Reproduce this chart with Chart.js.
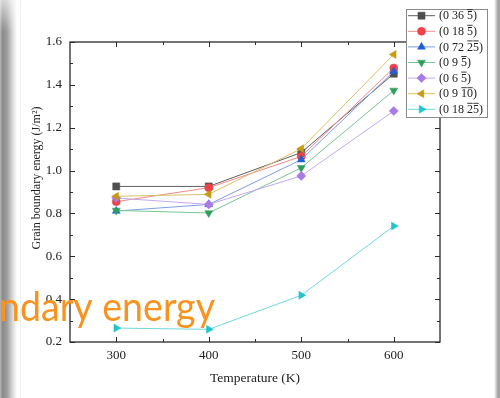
<!DOCTYPE html>
<html><head><meta charset="utf-8">
<script src="https://cdn.jsdelivr.net/npm/chart.js@4.4.1/dist/chart.umd.min.js"></script>
<style>html,body{margin:0;padding:0;background:#fff;overflow:hidden}#wrap{width:500px;height:398px;position:relative}</style>
</head><body><div id="wrap"><canvas id="c" width="500" height="398"></canvas></div>
<script>
// ---- data ----
const temperatures = [300, 400, 500, 600];
const seriesLabels = ['(0 36 5\u0305)', '(0 18 5\u0305)', '(0 72 2\u03055\u0305)', '(0 9 5\u0305)', '(0 6 5\u0305)', '(0 9 1\u03050\u0305)', '(0 18 2\u03055\u0305)'];
const e_0_36_5  = [0.926, 0.926, 1.084, 1.452];
const e_0_18_5  = [0.855, 0.920, 1.066, 1.479];
const e_0_72_25 = [0.811, 0.842, 1.051, 1.463];
const e_0_9_5   = [0.814, 0.802, 1.013, 1.374];
const e_0_6_5   = [0.872, 0.842, 0.975, 1.278];
const e_0_9_10  = [0.880, 0.889, 1.102, 1.542];
const e_0_18_25 = [0.265, 0.259, 0.418, 0.741];
const xTickValues = [300, 400, 500, 600];
const xMinorTicks = [350, 450, 550];
const yTickValues = [0.2, 0.4, 0.6, 0.8, 1.0, 1.2, 1.4, 1.6];
const yMinorTicks = [0.3, 0.5, 0.7, 0.9, 1.1, 1.3, 1.5];
const xTitle = 'Temperature (K)';
const yTitle = 'Grain boundary energy (J/m\u00B2)';
const overlayText = 'ndary energy';

const seriesValues = [e_0_36_5, e_0_18_5, e_0_72_25, e_0_9_5, e_0_6_5, e_0_9_10, e_0_18_25];
const markerColors = ['#4f4f4f', '#ee4148', '#1f5fd8', '#2e9e5b', '#a77be6', '#c89b14', '#22c4cc'];
const lineColors = ['#5e5e5e', '#f08a8c', '#7e9fe4', '#78c596', '#c4a9ef', '#dcc068', '#70d8dc'];
const pointStyles = ['rect', 'circle', 'triangle', 'triangle', 'rectRot', 'triangle', 'triangle'];
const pointRotations = [0, 0, 0, 180, 0, -90, 90];
const pointRadii = [5, 4, 4.6, 4.6, 4.6, 4.6, 4.6];

const SERIF = '"Liberation Serif", "Times New Roman", serif';

const datasets = seriesValues.map((vals, i) => ({
  label: seriesLabels[i],
  data: temperatures.map((t, j) => ({x: t, y: vals[j]})),
  borderColor: lineColors[i],
  backgroundColor: markerColors[i],
  pointBackgroundColor: markerColors[i],
  pointBorderColor: markerColors[i],
  pointBorderWidth: 0.5,
  borderWidth: 1,
  pointStyle: pointStyles[i],
  rotation: pointRotations[i],
  pointRadius: pointRadii[i],
  tension: 0,
  order: seriesValues.length - i
}));

function splitBars(label) {
  let plain = '', bars = [];
  for (let k = 0; k < label.length; k++) {
    const ch = label[k];
    if (ch === '\u0305') continue;
    const barred = label[k + 1] === '\u0305';
    if (barred) bars.push(plain.length);
    plain += ch;
  }
  return {plain, bars};
}

const decor = {
  id: 'decor',
  beforeDraw(chart) {
    const ctx = chart.ctx;
    ctx.save();
    ctx.fillStyle = '#ffffff';
    ctx.fillRect(0, 0, 500, 398);
    let g = ctx.createLinearGradient(0, 0, 17, 0);
    g.addColorStop(0, '#b8b8b8');
    g.addColorStop(0.15, '#8a8a8a');
    g.addColorStop(0.4, '#9c9c9c');
    g.addColorStop(0.75, '#dadada');
    g.addColorStop(1, '#ffffff');
    ctx.fillStyle = g;
    ctx.fillRect(0, 0, 17, 398);
    let g2 = ctx.createLinearGradient(0, 0, 0, 32);
    g2.addColorStop(0, 'rgba(255,255,255,0.65)');
    g2.addColorStop(1, 'rgba(255,255,255,0)');
    ctx.fillStyle = g2;
    ctx.fillRect(0, 0, 17, 32);
    ctx.fillStyle = 'rgba(0,0,0,0.05)';
    ctx.fillRect(20, 0, 1, 398);
    let g3 = ctx.createLinearGradient(494, 0, 498, 0);
    g3.addColorStop(0, '#ffffff');
    g3.addColorStop(1, '#a3a3a3');
    ctx.fillStyle = g3;
    ctx.fillRect(494, 0, 6, 398);
    ctx.restore();
  },
  afterDraw(chart) {
    const ctx = chart.ctx;
    const {left, right, top, bottom} = chart.chartArea;
    const xs = chart.scales.x, ys = chart.scales.y;
    ctx.save();
    ctx.strokeStyle = '#2a2a2a';
    ctx.lineWidth = 1.3;
    ctx.strokeRect(left, top, right - left, bottom - top);
    ctx.lineWidth = 1;
    ctx.beginPath();
    xTickValues.forEach(v => {
      const p = Math.round(xs.getPixelForValue(v)) + 0.5;
      ctx.moveTo(p, bottom); ctx.lineTo(p, bottom - 5);
      ctx.moveTo(p, top); ctx.lineTo(p, top + 5);
    });
    xMinorTicks.forEach(v => {
      const p = Math.round(xs.getPixelForValue(v)) + 0.5;
      ctx.moveTo(p, bottom); ctx.lineTo(p, bottom - 3);
      ctx.moveTo(p, top); ctx.lineTo(p, top + 3);
    });
    yTickValues.forEach(v => {
      const p = Math.round(ys.getPixelForValue(v)) + 0.5;
      ctx.moveTo(left, p); ctx.lineTo(left + 5, p);
      ctx.moveTo(right, p); ctx.lineTo(right - 5, p);
    });
    yMinorTicks.forEach(v => {
      const p = Math.round(ys.getPixelForValue(v)) + 0.5;
      ctx.moveTo(left, p); ctx.lineTo(left + 3, p);
      ctx.moveTo(right, p); ctx.lineTo(right - 3, p);
    });
    ctx.stroke();

    ctx.save();
    ctx.translate(37, 178);
    ctx.rotate(-Math.PI / 2);
    ctx.fillStyle = '#222';
    ctx.font = '12px ' + SERIF;
    ctx.textAlign = 'center';
    ctx.textBaseline = 'middle';
    ctx.fillText(yTitle, 0, 0);
    ctx.restore();

    const bx = 406, by = 9, bw = 81, bh = 108;
    ctx.fillStyle = '#ffffff';
    ctx.fillRect(bx, by, bw, bh);
    ctx.strokeStyle = '#8a8a8a';
    ctx.lineWidth = 1;
    ctx.strokeRect(bx + 0.5, by + 0.5, bw, bh);
    chart.data.datasets.forEach((ds, i) => {
      const y = 15.7 + i * 15.6;
      ctx.strokeStyle = ds.borderColor;
      ctx.lineWidth = 1;
      ctx.beginPath();
      ctx.moveTo(408, y); ctx.lineTo(435, y);
      ctx.stroke();
      ctx.fillStyle = ds.pointBackgroundColor;
      ctx.strokeStyle = ds.pointBorderColor;
      ctx.lineWidth = 0.5;
      Chart.helpers.drawPoint(ctx, {pointStyle: ds.pointStyle, rotation: ds.rotation, radius: ds.pointRadius, borderWidth: 0.5}, 421.5, y);
      const {plain, bars} = splitBars(ds.label);
      ctx.font = '12px ' + SERIF;
      ctx.fillStyle = '#222';
      ctx.textAlign = 'left';
      ctx.textBaseline = 'middle';
      ctx.fillText(plain, 439, y + 0.5);
      ctx.strokeStyle = '#222';
      ctx.lineWidth = 0.9;
      ctx.beginPath();
      bars.forEach(idx => {
        const x0 = 439 + ctx.measureText(plain.slice(0, idx)).width;
        const w = ctx.measureText(plain[idx]).width;
        ctx.moveTo(x0 + 0.3, y - 6); ctx.lineTo(x0 + w - 0.3, y - 6);
      });
      ctx.stroke();
    });

    const FAM = 'Lato, "Open Sans", sans-serif';
    ctx.font = '41px ' + FAM;
    const mw = ctx.measureText(overlayText).width;
    ctx.fillStyle = '#f7931e';
    ctx.textAlign = 'left';
    ctx.textBaseline = 'alphabetic';
    ctx.translate(-1, 321);
    ctx.scale(216 / mw, 1);
    ctx.fillText(overlayText, 0, 0);
    ctx.restore();
  }
};

new Chart(document.getElementById('c'), {
  type: 'line',
  data: {datasets},
  options: {
    responsive: false,
    animation: false,
    devicePixelRatio: 1,
    layout: {padding: {top: 42, right: 60, left: 0, bottom: 0}},
    plugins: {legend: {display: false}, tooltip: {enabled: false}, title: {display: false}},
    scales: {
      x: {
        type: 'linear', min: 250, max: 650,
        afterBuildTicks: s => { s.ticks = xTickValues.map(v => ({value: v})); },
        afterFit: s => { s.height = 56; },
        grid: {display: false, drawTicks: false},
        border: {display: false},
        ticks: {color: '#222', font: {family: SERIF, size: 13}, padding: 6, maxRotation: 0, callback: v => String(v)},
        title: {display: true, text: xTitle, color: '#222', font: {family: SERIF, size: 13.5}, padding: {top: 0, bottom: 11}}
      },
      y: {
        type: 'linear', min: 0.2, max: 1.6,
        afterBuildTicks: s => { s.ticks = yTickValues.map(v => ({value: v})); },
        afterFit: s => { s.width = 70; },
        grid: {display: false, drawTicks: false},
        border: {display: false},
        ticks: {color: '#222', font: {family: SERIF, size: 13}, padding: 8, callback: v => Number(v).toFixed(1)}
      }
    }
  },
  plugins: [decor]
});
</script>
</body></html>
